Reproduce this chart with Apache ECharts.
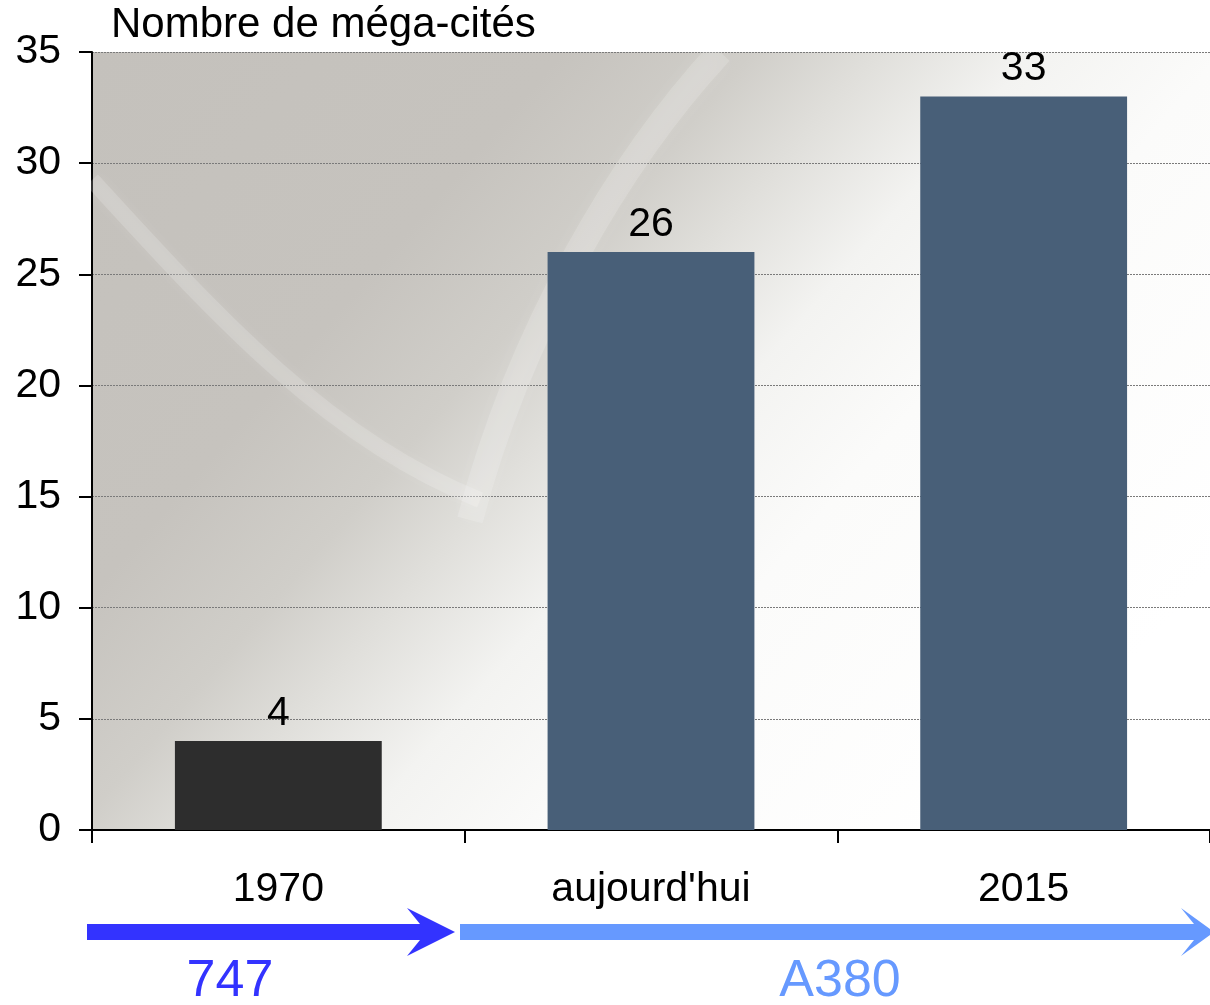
<!DOCTYPE html>
<html>
<head>
<meta charset="utf-8">
<script src="https://cdn.jsdelivr.net/npm/echarts@6/dist/echarts.min.js"></script>
<style>html,body{margin:0;padding:0;background:#fff;}#c{width:1210px;height:1005px;}</style>
</head>
<body>
<div id="c"></div>
<script>
var categories = ['1970', "aujourd'hui", '2015'];
var values = [4, 26, 33];
var barColors = ['#2d2d2d', '#485f78', '#485f78'];
var yTicks = [0, 5, 10, 15, 20, 25, 30, 35];
var titleText = 'Nombre de méga-cités';
var arrowLabels = ['747', 'A380'];
var arrowColors = ['#3333ff', '#6699ff'];

var FONT = '"Liberation Sans", Arial, sans-serif';
var chart = echarts.init(document.getElementById('c'), null, {renderer: 'canvas'});

var option = {
  animation: false,
  backgroundColor: '#ffffff',
  title: {
    text: titleText,
    left: 111, top: 4, padding: 0,
    textStyle: {fontFamily: FONT, fontSize: 42, fontWeight: 'normal', color: '#000'}
  },
  grid: {
    left: 92, right: 0, top: 52, bottom: 175,
    show: true,
    borderWidth: 0,
    backgroundColor: {
      type: 'linear', x: 0, y: 0, x2: 0.8, y2: 1,
      colorStops: [
        {offset: 0, color: '#c4c1bc'},
        {offset: 0.3, color: '#c6c3be'},
        {offset: 0.42, color: '#d0cec9'},
        {offset: 0.5, color: '#e0dfdb'},
        {offset: 0.6, color: '#f3f3f1'},
        {offset: 0.72, color: '#fbfbfa'},
        {offset: 1, color: '#ffffff'}
      ]
    }
  },
  xAxis: {
    type: 'category',
    data: categories,
    axisLine: {lineStyle: {color: '#000', width: 2}},
    axisTick: {show: true, length: 13, lineStyle: {color: '#000', width: 2}},
    axisLabel: {fontFamily: FONT, fontSize: 41, color: '#000', margin: 39}
  },
  yAxis: {
    type: 'value',
    min: yTicks[0], max: yTicks[yTicks.length - 1], interval: yTicks[1] - yTicks[0],
    axisLine: {show: true, lineStyle: {color: '#000', width: 2}},
    axisTick: {show: true, length: 13, lineStyle: {color: '#000', width: 2}},
    axisLabel: {fontFamily: FONT, fontSize: 41, color: '#000', margin: 31},
    splitLine: {show: true, lineStyle: {color: '#7a7a7a', width: 1, type: [2, 1]}}
  },
  series: [{
    type: 'bar',
    barWidth: '55.5%',
    z: 3,
    data: values.map(function (v, i) { return {value: v, itemStyle: {color: barColors[i]}}; }),
    label: {
      show: true, position: 'top', distance: 7,
      fontFamily: FONT, fontSize: 41, color: '#000',
      formatter: function (p) { return Math.round(p.value); }
    }
  }],
  graphic: [
    // subtle background swooshes (decoration)
    {type: 'bezierCurve', z: 1, silent: true,
     shape: {x1: 92, y1: 180, x2: 480, y2: 500, cpx1: 220, cpy1: 320, cpx2: 330, cpy2: 440},
     style: {stroke: 'rgba(255,255,255,0.16)', lineWidth: 16, fill: null,
             shadowBlur: 14, shadowColor: 'rgba(255,255,255,0.6)'}},
    {type: 'bezierCurve', z: 1, silent: true,
     shape: {x1: 470, y1: 520, x2: 720, y2: 52, cpx1: 520, cpy1: 330, cpx2: 620, cpy2: 160},
     style: {stroke: 'rgba(255,255,255,0.16)', lineWidth: 26, fill: null,
             shadowBlur: 20, shadowColor: 'rgba(255,255,255,0.6)'}},
    // arrows
    {type: 'polygon', silent: true,
     shape: {points: [[87, 924], [420, 924], [407, 908], [455, 932], [407, 956], [420, 940], [87, 940]]},
     style: {fill: arrowColors[0]}},
    {type: 'polygon', silent: true,
     shape: {points: [[460, 924], [1194, 924], [1181, 908], [1214, 932], [1181, 956], [1194, 940], [460, 940]]},
     style: {fill: arrowColors[1]}},
    {type: 'text', silent: true, x: 230, y: 982,
     style: {text: arrowLabels[0], fill: arrowColors[0], font: '52px ' + FONT, textAlign: 'center', textVerticalAlign: 'middle'}},
    {type: 'text', silent: true, x: 840, y: 982,
     style: {text: arrowLabels[1], fill: arrowColors[1], font: '52px ' + FONT, textAlign: 'center', textVerticalAlign: 'middle'}}
  ]
};
chart.setOption(option);
</script>
</body>
</html>
